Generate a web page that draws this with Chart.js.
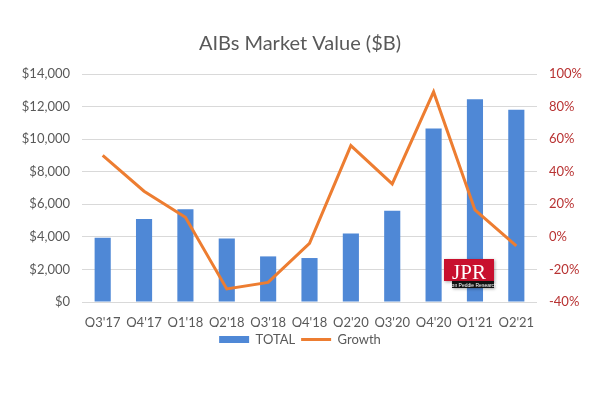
<!DOCTYPE html>
<html>
<head>
<meta charset="utf-8">
<script src="https://cdn.jsdelivr.net/npm/chart.js@4"></script>
<style>
  body { margin: 0; background: #fff; }
  #chart { display: block; }
</style>
</head>
<body>
<canvas id="chart" width="600" height="401"></canvas>
<script>
const quarters = ["Q3'17", "Q4'17", "Q1'18", "Q2'18", "Q3'18", "Q4'18", "Q2'20", "Q3'20", "Q4'20", "Q1'21", "Q2'21"];
const total = [3950, 5100, 5700, 3900, 2800, 2700, 4200, 5600, 10650, 12450, 11800];
const growth = [50, 28, 12, -32, -28, -4, 56, 32.5, 89, 16.5, -5.5];

// little JPR logo in the corner of the plot
const logo = {
    id: 'logo',
    afterDatasetsDraw(chart) {
        const a = chart.chartArea;
        const ctx = chart.ctx;
        const x = a.right - 93, y = a.bottom - 43;
        ctx.save();
        ctx.shadowColor = 'rgba(0,0,0,0.35)';
        ctx.shadowBlur = 3;
        ctx.shadowOffsetX = 1;
        ctx.shadowOffsetY = 1;
        ctx.fillStyle = '#c8102e';
        ctx.fillRect(x, y, 50, 22);
        ctx.fillStyle = '#111';
        ctx.fillRect(x + 8, y + 22, 42, 7);
        ctx.shadowColor = 'transparent';
        ctx.fillStyle = '#fff';
        ctx.font = '21px "Liberation Serif"';
        ctx.textAlign = 'center';
        ctx.textBaseline = 'alphabetic';
        ctx.fillText('JPR', x + 25, y + 20);
        ctx.font = '5px "Liberation Sans Narrow", "Liberation Sans"';
        ctx.fillText('Jon Peddie Research', x + 29, y + 27.5);
        ctx.restore();
    }
};

new Chart(document.getElementById('chart'), {
    data: {
        labels: quarters,
        datasets: [{
            type: 'bar',
            label: 'TOTAL',
            data: total,
            yAxisID: 'y',
            backgroundColor: '#4f88d6',
            categoryPercentage: 1,
            barPercentage: 0.39,
            pointStyle: 'rect',
            order: 2
        }, {
            type: 'line',
            label: 'Growth',
            data: growth,
            yAxisID: 'y1',
            borderColor: '#ed7d31',
            backgroundColor: '#ed7d31',
            borderWidth: 3,
            pointRadius: 0,
            tension: 0,
            pointStyle: 'line',
            order: 1
        }]
    },
    options: {
        responsive: false,
        animation: false,
        layout: { padding: { top: 0, bottom: 45, left: 0, right: 0 } },
        font: { family: 'Lato' },
        plugins: {
            title: {
                display: true,
                text: 'AIBs Market Value ($B)',
                color: '#595959',
                font: { family: 'Lato', size: 20, weight: 'normal' },
                padding: { top: 32, bottom: 18 }
            },
            legend: {
                position: 'bottom',
                labels: {
                    color: '#595959',
                    font: { family: 'Lato', size: 13 },
                    usePointStyle: true,
                    pointStyleWidth: 30,
                    boxWidth: 30,
                    boxHeight: 7,
                    padding: 6,
                    sort: (a, b) => a.datasetIndex - b.datasetIndex
                }
            },
            tooltip: { enabled: false }
        },
        scales: {
            x: {
                grid: { display: false },
                border: { display: false },
                ticks: { color: '#595959', font: { family: 'Lato', size: 13 }, padding: 5, maxRotation: 0 },
                afterFit: s => { s.height = 25; }
            },
            y: {
                position: 'left',
                min: 0,
                max: 14000,
                grid: { color: '#d9d9d9', drawTicks: false },
                border: { display: false },
                ticks: {
                    stepSize: 2000,
                    color: '#595959',
                    font: { family: 'Lato', size: 13 },
                    padding: 12,
                    callback: v => '$' + v.toLocaleString('en-US')
                },
                afterFit: s => { s.width = 82; }
            },
            y1: {
                position: 'right',
                min: -40,
                max: 100,
                grid: { drawOnChartArea: false, drawTicks: false },
                border: { display: false },
                ticks: {
                    stepSize: 20,
                    color: '#b83232',
                    font: { family: 'Lato', size: 13 },
                    padding: 12,
                    callback: v => v + '%'
                },
                afterFit: s => { s.width = 63; }
            }
        }
    },
    plugins: [logo]
});
</script>
</body>
</html>
